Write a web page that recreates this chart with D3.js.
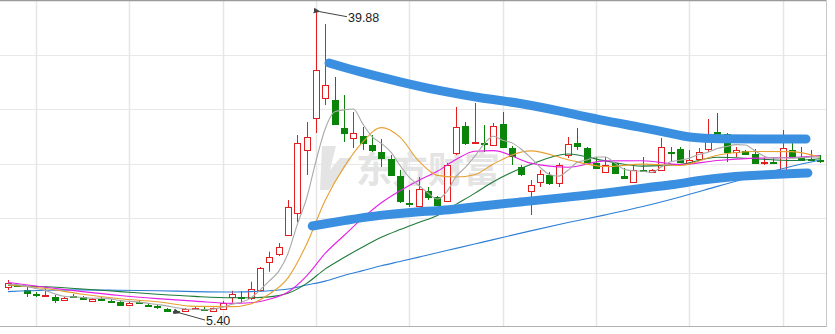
<!DOCTYPE html>
<html>
<head>
<meta charset="utf-8">
<script src="https://cdn.jsdelivr.net/npm/d3@7"></script>
<style>
  body { margin: 0; background: #fff; }
  svg { display: block; }
</style>
</head>
<body>
<div id="chart"></div>
<script>
// daily candles (price)
const open = [8.38,8.60,8.03,7.57,7.35,7.23,6.89,7.37,7.23,6.85,
  7.02,6.79,6.69,6.35,6.68,6.37,6.20,5.86,5.63,5.66,
  5.97,5.88,5.66,5.89,7.27,7.29,7.12,8.03,11.27,12.23,
  14.33,16.84,24.05,27.72,30.01,29.78,26.57,25.43,25.66,24.63,
  23.83,23.02,21.08,18.02,17.65,19.36,18.68,18.22,23.71,26.80,
  24.85,24.87,24.63,27.03,24.28,22.11,19.36,20.39,21.19,20.28,
  23.48,24.85,24.28,22.57,21.54,22.57,21.08,20.39,21.79,21.54,
  21.77,23.85,24.17,22.57,23.02,24.17,26.11,25.89,23.83,23.94,
  23.60,22.66,22.70,21.65,24.05,23.25,23.04,22.93];
const close = [8.83,8.55,7.69,7.40,7.46,6.89,7.17,7.33,7.00,7.04,
  6.98,6.75,6.35,6.55,6.64,6.26,6.03,5.63,5.51,5.89,
  6.03,5.84,5.97,6.58,7.57,7.25,8.15,10.55,11.84,12.99,
  17.53,24.85,25.54,33.21,31.49,27.03,26.00,26.00,24.85,24.05,
  23.14,21.19,18.22,17.97,19.59,18.68,17.76,22.34,26.69,24.85,
  24.97,24.83,26.80,24.40,23.37,21.31,20.05,21.31,20.28,22.34,
  24.74,24.51,22.68,22.00,22.34,21.42,20.85,21.77,21.75,21.77,
  24.40,23.81,22.68,22.91,23.83,25.77,25.89,23.83,24.05,23.60,
  22.57,22.70,22.66,24.28,23.37,22.91,23.00,22.89];
const high = [9.18,8.83,8.38,7.80,8.38,7.46,7.23,7.57,7.35,7.12,
  7.23,7.00,6.89,6.66,6.89,6.55,6.32,5.97,5.74,5.97,
  6.20,6.09,6.03,6.77,7.95,7.92,8.98,10.66,12.42,13.41,
  18.33,25.77,27.26,39.88,38.47,32.41,30.35,28.40,26.69,25.77,
  25.31,23.48,21.77,19.48,20.96,19.82,18.79,22.57,28.98,27.26,
  29.43,26.91,27.14,28.40,24.51,22.34,20.62,21.77,21.54,22.57,
  25.54,26.57,24.40,23.25,23.25,22.68,22.00,22.22,23.25,21.88,
  25.43,24.40,24.40,24.05,24.28,27.60,28.29,26.00,24.40,24.05,
  24.17,23.14,23.14,26.34,25.77,24.40,24.05,23.48];
const low = [8.03,8.38,7.23,7.23,7.35,6.55,6.83,7.12,6.89,6.77,
  6.77,6.66,6.32,6.32,6.43,6.09,5.86,5.51,5.40,5.63,
  5.86,5.74,5.63,5.86,6.58,6.55,6.89,7.92,10.13,11.92,
  14.21,15.81,21.19,26.00,29.20,26.91,24.97,24.28,24.05,23.83,
  22.11,21.08,17.99,17.53,17.53,18.33,17.65,18.10,23.48,24.63,
  24.85,23.83,24.51,24.28,22.34,21.08,16.61,19.82,20.05,19.82,
  23.14,24.05,22.57,21.88,21.42,21.31,20.74,20.28,21.54,21.42,
  21.65,22.68,22.57,22.45,22.91,23.83,25.77,22.68,23.25,23.48,
  22.45,22.34,22.57,21.54,23.25,22.80,22.91,22.57];

// MA5 for every candle
const ma5 = [8.70,8.65,8.45,8.20,7.99,7.60,7.32,7.25,7.17,7.09,
  7.10,7.02,6.82,6.73,6.65,6.51,6.37,6.22,6.01,5.86,
  5.82,5.78,5.85,6.06,6.40,6.64,7.10,8.02,9.07,10.16,
  12.21,15.55,18.55,22.82,26.52,28.42,28.65,28.75,27.07,25.59,
  24.81,23.85,22.29,20.91,20.02,19.13,18.44,19.27,21.01,22.06,
  23.32,24.74,25.63,25.17,24.87,24.14,23.19,22.09,21.26,21.06,
  21.74,22.64,22.91,23.25,23.25,22.59,21.86,21.68,21.63,21.51,
  22.11,22.70,22.88,23.11,23.53,23.80,24.22,24.45,24.67,24.63,
  23.99,23.35,23.12,23.16,23.12,23.18,23.24,23.29];

// longer averages, read at these candles
const maIdx = [0,4,8,12,16,20,24,26,28,30,32,34,36,38,40,42,44,46,48,50,52,56,60,64,68,72,76,80,84,87];
const ma10 = [8.60,8.20,7.55,7.04,6.69,6.16,6.13,6.44,7.57,9.43,13.29,18.34,22.10,24.95,26.62,25.52,22.80,21.15,20.96,21.23,22.45,23.96,22.94,22.16,22.44,22.28,23.46,23.89,23.87,23.20];
const ma20 = [8.90,8.35,7.85,7.40,7.05,6.76,6.50,6.57,6.97,7.80,9.66,12.24,14.27,16.26,18.02,19.40,20.57,21.62,22.96,23.92,23.98,22.55,22.08,22.81,22.83,22.39,22.85,23.12,23.20,23.43];
const ma30 = [8.55,8.40,8.15,7.85,7.55,7.30,7.15,7.15,7.25,7.65,8.79,10.45,11.75,12.96,14.07,14.95,15.76,16.56,17.83,19.09,20.42,22.40,23.60,22.81,22.21,22.41,23.22,23.06,22.85,23.05];
const ma60 = [7.85,8.00,8.05,8.00,7.95,7.85,7.80,7.85,7.95,8.15,8.60,9.05,9.70,10.25,10.80,11.30,11.80,12.30,12.80,13.30,13.80,14.80,15.75,16.63,17.58,18.68,19.89,21.08,22.19,22.91];

// hand drawn triangle (candle position, price)
const upperIdx = [34.4,37.7,42,46.3,50.6,54.9,59.1,63.4,67.7,70.9,73.1,76.3,80.6,85.5];
const upperVal = [34.01,32.98,31.84,30.81,30.00,29.43,28.52,27.49,26.69,26.00,25.43,25.31,25.31,25.31];
const lowerIdx = [32.6,36.3,39.9,43.4,47.4,50.6,54.9,59.1,64.2,68.8,71.3,74.1,77.0,80.6,85.7];
const lowerVal = [15.36,16.04,16.61,16.96,17.19,17.65,18.10,18.56,19.13,19.82,20.05,20.62,20.96,21.19,21.42];

// vertical grid at these candles
const gridIdx = [3,13,23,33,43,53,63,73,83];

const W = 835, H = 334;
const RED = '#e41e1e', GREEN = '#0a850a';

const svg = d3.select('#chart').append('svg')
    .attr('width', W)
    .attr('height', H);

const x = d3.scaleLinear().domain([-0.5, open.length - 0.5]).range([3.33, 824.67]);
const y = d3.scaleLinear().domain([3.80, 41.22]).range([327, 0]);
const px = v => Math.round(v) + 0.5;

// grid
const [y0, y1] = y.domain();
const hLines = d3.range(1, 6).map(k => y0 + k * (y1 - y0) / 6);
svg.append('g').selectAll('line').data(hLines).enter().append('line')
    .attr('x1', 0).attr('x2', 826)
    .attr('y1', d => px(y(d))).attr('y2', d => px(y(d)))
    .style('stroke', '#e8e8e8');
svg.append('g').selectAll('line').data(gridIdx).enter().append('line')
    .attr('x1', d => px(x(d))).attr('x2', d => px(x(d)))
    .attr('y1', 0).attr('y2', 327)
    .style('stroke', '#e6e6e6').style('stroke-width', 1.5);

// frame
svg.append('line').attr('x1', 0).attr('x2', 827).attr('y1', 0.5).attr('y2', 0.5)
    .style('stroke', '#9a9a9a').style('stroke-width', 1.5);
svg.append('line').attr('x1', 0).attr('x2', 827).attr('y1', 326.5).attr('y2', 326.5)
    .style('stroke', '#b0b0b0');
svg.append('line').attr('x1', 826.5).attr('x2', 826.5).attr('y1', 0).attr('y2', 327)
    .style('stroke', '#c8c8c8');

// watermark
const wm = svg.append('g').style('fill', '#e4e4e4');
wm.append('path').attr('d', 'M322,146 L336,146 L330,170 L340,158 L352,158 L329,190 L320,190 Z');
wm.append('text')
    .attr('x', 356).attr('y', 183)
    .style('font-family', '"Noto Sans CJK SC", sans-serif')
    .style('font-weight', 'bold')
    .style('font-size', '36px')
    .text('东方财富');

// candles
const candles = svg.append('g').selectAll('g')
    .data(open.map((o, i) => ({ i, o, c: close[i], h: high[i], l: low[i] })))
    .enter().append('g');

candles.append('line')
    .attr('x1', d => px(x(d.i))).attr('x2', d => px(x(d.i)))
    .attr('y1', d => y(d.h)).attr('y2', d => y(d.l))
    .style('stroke', d => d.c >= d.o ? RED : GREEN);

candles.append('rect')
    .attr('x', d => Math.round(x(d.i)) - 2.5)
    .attr('width', 6)
    .attr('y', d => Math.round(y(Math.max(d.o, d.c))) + 0.5)
    .attr('height', d => Math.max(1, Math.round(Math.abs(y(d.o) - y(d.c)))))
    .style('fill', d => d.c >= d.o ? '#fff' : GREEN)
    .style('stroke', d => d.c >= d.o ? RED : GREEN);

// moving averages
const line = d3.line()
    .x(d => x(d[0]))
    .y(d => y(d[1]))
    .curve(d3.curveMonotoneX);

const maSeries = [
    { color: '#2d7fd6', pts: maIdx.map((k, j) => [k, ma60[j]]) },
    { color: '#1f7a3a', pts: maIdx.map((k, j) => [k, ma30[j]]) },
    { color: '#e620e6', pts: maIdx.map((k, j) => [k, ma20[j]]) },
    { color: '#e8a030', pts: maIdx.map((k, j) => [k, ma10[j]]) },
    { color: '#a8a8a8', pts: ma5.map((v, i) => [i, v]) }
];
svg.append('g').selectAll('path').data(maSeries).enter().append('path')
    .attr('d', d => line(d.pts))
    .style('fill', 'none')
    .style('stroke', d => d.color)
    .style('stroke-width', 1.1);

// triangle annotation
const penLine = d3.line()
    .x(d => x(d[0]))
    .y(d => y(d[1]))
    .curve(d3.curveBasis);
svg.append('g').selectAll('path')
    .data([upperIdx.map((k, j) => [k, upperVal[j]]), lowerIdx.map((k, j) => [k, lowerVal[j]])])
    .enter().append('path')
    .attr('d', penLine)
    .style('fill', 'none')
    .style('stroke', '#3a8fe0')
    .style('stroke-width', 9)
    .style('stroke-linecap', 'round')
    .style('stroke-linejoin', 'round');

// max / min labels
svg.append('defs').append('marker')
    .attr('id', 'arrow')
    .attr('viewBox', '0 0 10 10')
    .attr('refX', 1).attr('refY', 5)
    .attr('markerWidth', 7).attr('markerHeight', 7)
    .attr('orient', 'auto-start-reverse')
    .append('path').attr('d', 'M0,5 L10,1 L10,9 Z').style('fill', '#444');

const iMax = d3.maxIndex(high), iMin = d3.minIndex(low);
const labels = [
    { i: iMax, v: high[iMax], dx: 29, dy: 5, ty: 10 },
    { i: iMin, v: low[iMin], dx: 27, dy: 7, ty: 12 }
];
labels.forEach(d => {
    const cx = x(d.i) + 2, cy = y(d.v);
    svg.append('line')
        .attr('x1', cx + d.dx).attr('y1', cy + d.dy)
        .attr('x2', cx + 2).attr('y2', cy)
        .attr('marker-end', 'url(#arrow)')
        .style('stroke', '#444');
    svg.append('text')
        .attr('x', cx + d.dx + 1).attr('y', cy + d.ty)
        .style('font-family', '"Liberation Sans", Arial, sans-serif')
        .style('font-size', '12.5px')
        .style('fill', '#222')
        .text(d.v.toFixed(2));
});
</script>
</body>
</html>
